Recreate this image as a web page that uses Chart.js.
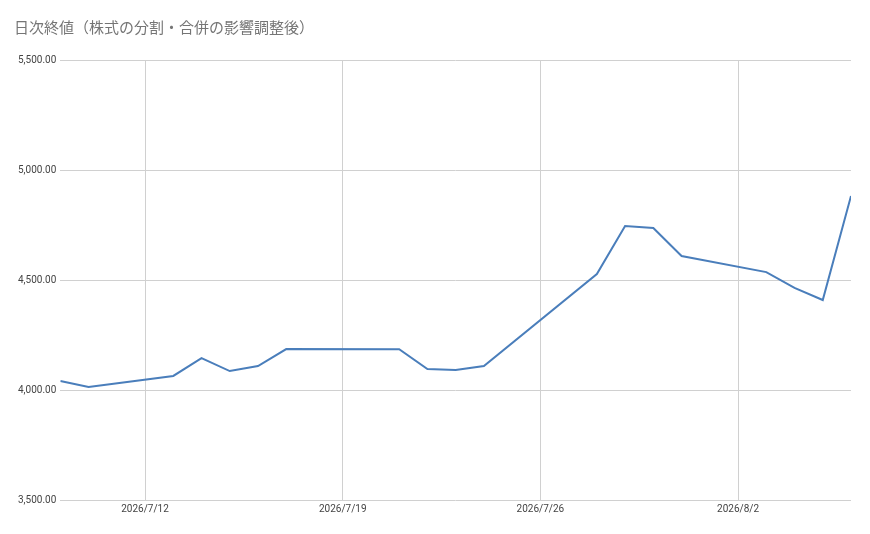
<!DOCTYPE html>
<html><head><meta charset="utf-8">
<script src="https://cdn.jsdelivr.net/npm/chart.js@4"></script>
<style>body{margin:0;background:#fff}#w{width:870px;height:534px;position:relative}</style>
</head><body><div id="w"><canvas id="c"></canvas></div>
<script>
const dates=["2026/7/9","2026/7/10","2026/7/13","2026/7/14","2026/7/15","2026/7/16","2026/7/17","2026/7/21","2026/7/22","2026/7/23","2026/7/24","2026/7/28","2026/7/29","2026/7/30","2026/7/31","2026/8/3","2026/8/4","2026/8/5","2026/8/6"];
const values=[4041,4014,4064,4145,4086,4109,4186,4185,4095,4091,4109,4527,4745,4736,4609,4536,4464,4409,4882];
const tickLabels=["2026/7/12","2026/7/19","2026/7/26","2026/8/2"];
const base=new Date(2026,6,9);
const dayIdx=s=>{const [y,m,d]=s.split('/').map(Number);return Math.round((new Date(y,m-1,d)-base)/86400000);};
const tickPos=tickLabels.map(dayIdx);
new Chart(document.getElementById('c'),{type:'line',
data:{datasets:[{data:dates.map((d,i)=>({x:dayIdx(d),y:values[i]})),borderColor:'#4a7ebb',borderWidth:2,pointRadius:0,tension:0}]},
options:{responsive:true,maintainAspectRatio:false,animation:false,
layout:{padding:{left:14,right:19,top:4,bottom:16}},
plugins:{legend:{display:false},tooltip:{enabled:false},
title:{display:true,text:'日次終値（株式の分割・合併の影響調整後）',align:'start',color:'#757575',font:{size:15,family:'Noto Sans CJK JP',weight:'normal'},padding:{top:14,bottom:24}}},
scales:{x:{type:'linear',min:0,max:28,
afterBuildTicks:a=>{a.ticks=tickPos.map(v=>({value:v}));},
ticks:{callback:v=>tickLabels[tickPos.indexOf(v)]||'',color:'#444',font:{size:10,family:'Roboto'},maxRotation:0,autoSkip:false},
grid:{color:'#d0d0d0',drawTicks:false},border:{display:false}},
y:{min:3500,max:5500,ticks:{stepSize:500,color:'#444',font:{size:10,family:'Roboto'},padding:4,
callback:v=>v.toLocaleString('en-US',{minimumFractionDigits:2,maximumFractionDigits:2})},
grid:{color:'#d0d0d0',drawTicks:false},border:{display:false}}}}});
</script></body></html>
